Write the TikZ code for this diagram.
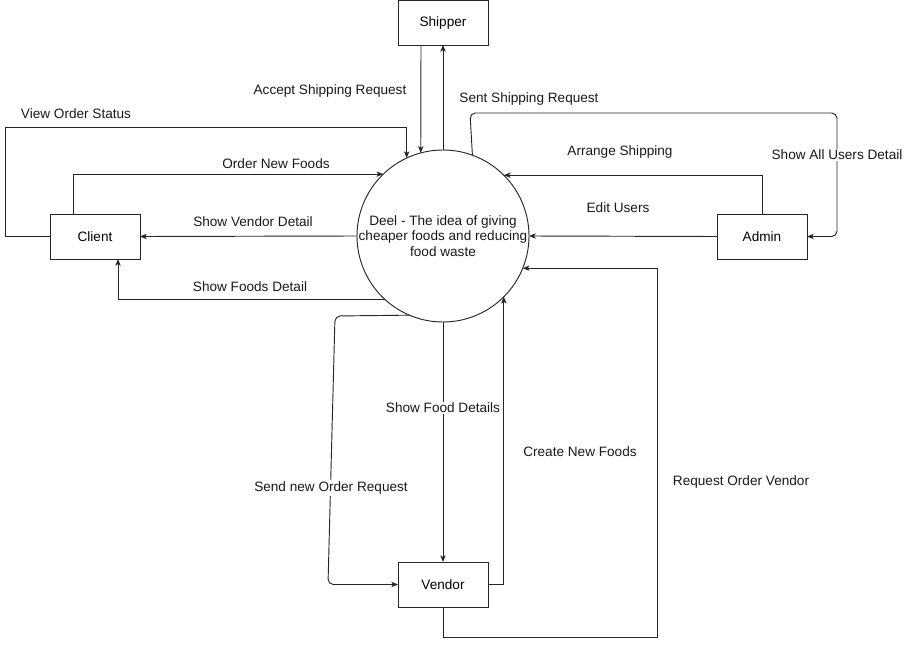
\documentclass[tikz,border=0pt]{standalone}
\usepackage{fontspec}
\setmainfont{Liberation Sans}
\usetikzlibrary{arrows.meta,calc}
\begin{document}
\begin{tikzpicture}[x=0.75pt,y=-0.75pt,
  font=\fontsize{10.2}{11.6}\selectfont,
  entity/.style={draw=black!85,line width=0.7pt,minimum width=67.5pt,minimum height=33.75pt,inner sep=0pt,outer sep=0pt},
  proc/.style={draw=black!85,line width=0.7pt,circle,minimum size=129pt,inner sep=0pt,outer sep=0pt},
  arr/.style={draw=black!85,line width=0.7pt,-{Stealth[length=5pt,width=4pt,inset=1.2pt]}},
  lbl/.style={inner sep=1pt,text=black!90},
  wlbl/.style={lbl,fill=white}]
\useasboundingbox (0,0) rectangle (904,646);
% nodes
\node[proc] (c) at (443,236) {};
\node[align=center,lbl] (ctext) at (443,236) {Deel - The idea of giving\\cheaper foods and reducing\\food waste};
\node[entity] (shipper) at (443,22.5) {Shipper};
\node[entity] (client) at (95,236.5) {Client};
\node[entity] (admin) at (762,236.5) {Admin};
\node[entity] (vendor) at (443,584.5) {Vendor};
% connectors
\draw[arr] ($(shipper.south)+(-22,0)$) -- (c.105.5);
\draw[arr] (c.north) -- (shipper.south);
\draw[arr,rounded corners=4pt] (c.70.3) -- (470,113) -- (837,113) |- (admin.east);
\draw[arr] (admin.north) |- (c.45.2);
\draw[arr] (admin.west) -- (c.east);
\draw[arr] (vendor.south) -- (443,637) -- (657,637) |- (c.-22.6);
\draw[arr] (c.south) -- (vendor.north);
\draw[arr] (vendor.east) -| (c.-45.8);
\draw[arr,rounded corners=4pt] (c.247.4) -- (335,316) -- (328,584.5) -- (vendor.west);
\draw[arr] (client.west) -- (5,236.5) -- (5,127) -| (c.115.5);
\draw[arr] ($(client.north)+(-22,0)$) |- (c.134.8);
\draw[arr] (c.west) -- (client.east);
\draw[arr] (c.228.1) -| ($(client.south)+(23,0)$);
% labels
\node[lbl] (l1) at (330,91) {Accept Shipping Request};
\node[lbl] (l2) at (529,99) {Sent Shipping Request};
\node[wlbl] (l3) at (837,155) {Show All Users Detail};
\node[lbl] (l4) at (620,152) {Arrange Shipping};
\node[lbl] (l5) at (618,208) {Edit Users};
\node[lbl] (l6) at (741,482) {Request Order Vendor};
\node[wlbl] (l7) at (443,408) {Show Food Details};
\node[lbl] (l8) at (580,452) {Create New Foods};
\node[wlbl] (l9) at (331,488) {Send new Order Request};
\node[lbl] (l10) at (76,114) {View Order Status};
\node[lbl] (l11) at (276,164) {Order New Foods};
\node[lbl] (l12) at (253,222) {Show Vendor Detail};
\node[lbl] (l13) at (250,287) {Show Foods Detail};
\end{tikzpicture}
\end{document}
